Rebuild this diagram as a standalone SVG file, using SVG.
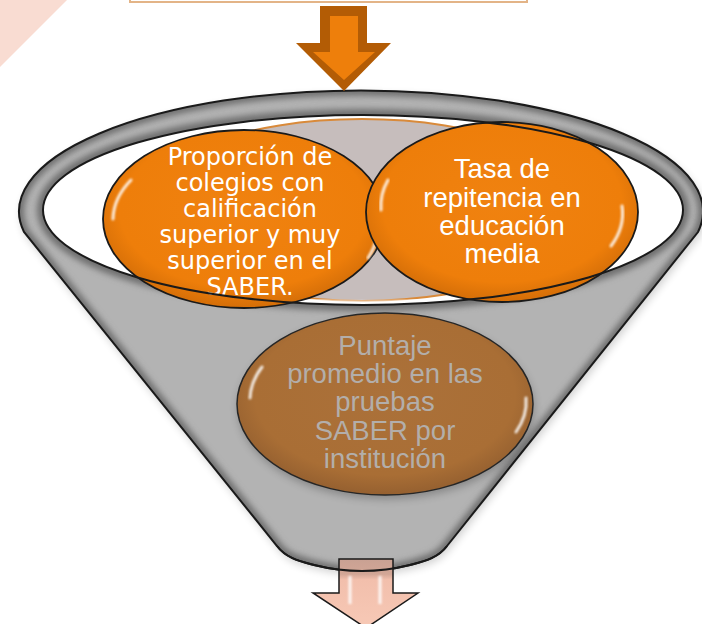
<svg xmlns="http://www.w3.org/2000/svg" width="702" height="624" viewBox="0 0 702 624">
<defs>
<style>
.t1{font-family:"DejaVu Sans",Verdana,sans-serif;font-size:24px;fill:#ffffff;text-anchor:middle}
.t2{font-family:"Liberation Sans",Arial,sans-serif;font-size:27.5px;fill:#ffffff;text-anchor:middle}
.t3{font-family:"Liberation Sans",Arial,sans-serif;font-size:27.5px;fill:#b3aeaa;text-anchor:middle}
.edge{fill:none;stroke:#1a1a1a;stroke-width:2}
.gloss{fill:none;stroke:#ffffff;stroke-width:3;stroke-linecap:round;opacity:0.85;filter:url(#soft)}
</style>
<filter id="soft" x="-20%" y="-20%" width="140%" height="140%"><feGaussianBlur stdDeviation="1.2"/></filter>
<filter id="blur3" x="-10%" y="-10%" width="120%" height="120%"><feGaussianBlur stdDeviation="3"/></filter>
<filter id="shadow" x="-10%" y="-10%" width="120%" height="120%"><feGaussianBlur stdDeviation="4"/></filter>
<radialGradient id="orange" cx="50%" cy="45%" r="55%">
<stop offset="0" stop-color="#f08210"/>
<stop offset="0.8" stop-color="#ee7e0a"/>
<stop offset="1" stop-color="#d46e08"/>
</radialGradient>
<radialGradient id="brown" cx="50%" cy="45%" r="55%">
<stop offset="0" stop-color="#ab713a"/>
<stop offset="0.8" stop-color="#a96e35"/>
<stop offset="1" stop-color="#956030"/>
</radialGradient>
<linearGradient id="pinkArrow" x1="0" y1="0" x2="0" y2="1">
<stop offset="0" stop-color="#c9a193"/>
<stop offset="0.22" stop-color="#d2a696"/>
<stop offset="0.3" stop-color="#f2bfac"/>
<stop offset="1" stop-color="#f7c9b6"/>
</linearGradient>
<path id="funnelShape" d="M24,232 A342,121 0 1 1 698,232 L447,546 C438,558 425,561 410,565 Q362,577 314,565 C299,561 286,558 277,546 Z"/>
<clipPath id="funnelClip"><use href="#funnelShape"/></clipPath>
<clipPath id="innerClip"><ellipse cx="363" cy="210" rx="320" ry="95"/></clipPath>
</defs>

<rect width="702" height="624" fill="#ffffff"/>
<polygon points="0,0 67,0 0,67" fill="#f9dcd2"/>
<rect x="130" y="-10" width="397" height="12" fill="#ffffff" stroke="#e3b487" stroke-width="2"/>

<g id="funnel">
<use href="#funnelShape" fill="#000" opacity="0.18" transform="translate(2,4)" filter="url(#shadow)"/>
<use href="#funnelShape" fill="#b3b3b3"/>
<g clip-path="url(#funnelClip)">
<use href="#funnelShape" fill="none" stroke="#6e6e6e" stroke-width="10" filter="url(#blur3)"/>
<ellipse cx="363" cy="210" rx="320" ry="95" fill="none" stroke="#6e6e6e" stroke-width="12" filter="url(#blur3)"/>
</g>
<use href="#funnelShape" class="edge"/>
<ellipse cx="363" cy="210" rx="320" ry="95" fill="#ffffff"/>
<g clip-path="url(#innerClip)">
<ellipse cx="362" cy="210" rx="225" ry="91" fill="#c6bdbc" stroke="#d98a3a" stroke-width="2"/>
<path d="M300,300 Q362,306 440,300" fill="none" stroke="#ffffff" stroke-width="4" filter="url(#soft)"/>
</g>
</g>

<g id="node-1">
<ellipse cx="244" cy="219" rx="141" ry="89" fill="url(#orange)" stroke="#1a1a1a" stroke-width="1.8"/>
<path class="gloss" d="M131,180 A131,79 0 0 0 113,219"/>
<path class="gloss" d="M377,236 A131,79 0 0 1 368,258" opacity="0.5"/>
<text class="t1" x="250" y="165">Proporción de</text>
<text class="t1" x="250" y="191">colegios con</text>
<text class="t1" x="250" y="217">calificación</text>
<text class="t1" x="250" y="243">superior y muy</text>
<text class="t1" x="250" y="269">superior en el</text>
<text class="t1" x="250" y="295">SABER.</text>
</g>

<g id="node-2">
<ellipse cx="502" cy="212" rx="136" ry="90" fill="url(#orange)" stroke="#1a1a1a" stroke-width="1.8"/>
<path class="gloss" d="M622,206 A120,76 0 0 1 611,246"/>
<path class="gloss" d="M381,210 A120,76 0 0 1 388,180" opacity="0.7"/>
<text class="t2" x="502" y="178">Tasa de</text>
<text class="t2" x="502" y="207">repitencia en</text>
<text class="t2" x="502" y="235">educación</text>
<text class="t2" x="502" y="263">media</text>
</g>

<ellipse cx="363" cy="210" rx="320" ry="95" class="edge"/>

<g id="node-3">
<ellipse cx="385" cy="404" rx="148" ry="91" fill="#000" opacity="0.25" transform="translate(1,4)" filter="url(#shadow)"/>
<ellipse cx="385" cy="404" rx="148" ry="91" fill="url(#brown)" stroke="#262626" stroke-width="1.5"/>
<path class="gloss" d="M262,367 A132,78 0 0 0 250,398"/>
<path class="gloss" d="M526,398 A132,78 0 0 1 516,432"/>
<text class="t3" x="385" y="355">Puntaje</text>
<text class="t3" x="385" y="383">promedio en las</text>
<text class="t3" x="385" y="411">pruebas</text>
<text class="t3" x="385" y="440">SABER por</text>
<text class="t3" x="385" y="468">institución</text>
</g>

<g id="connectors">
<g id="arrow-top">
<polygon points="320,6 367,6 367,43 391,43 344,91 296,43 320,43" fill="#b35c05"/>
<polygon points="330,16 358,16 358,52 375,52 344,80 313,52 330,52" fill="#ee7f0b"/>
</g>
<g id="arrow-bottom">
<polygon points="339,559 393,559 393,593 418,593 366,628 313,593 339,593" fill="url(#pinkArrow)" stroke="#1a1a1a" stroke-width="1.5"/>
<path d="M350,576 L350,604 M380,576 L380,604" stroke="#ffffff" stroke-width="3" opacity="0.85" filter="url(#soft)"/>
</g>
</g>
<path d="M277,546 C286,558 299,561 314,565 Q362,577 410,565 C425,561 438,558 447,546" class="edge"/>
</svg>
